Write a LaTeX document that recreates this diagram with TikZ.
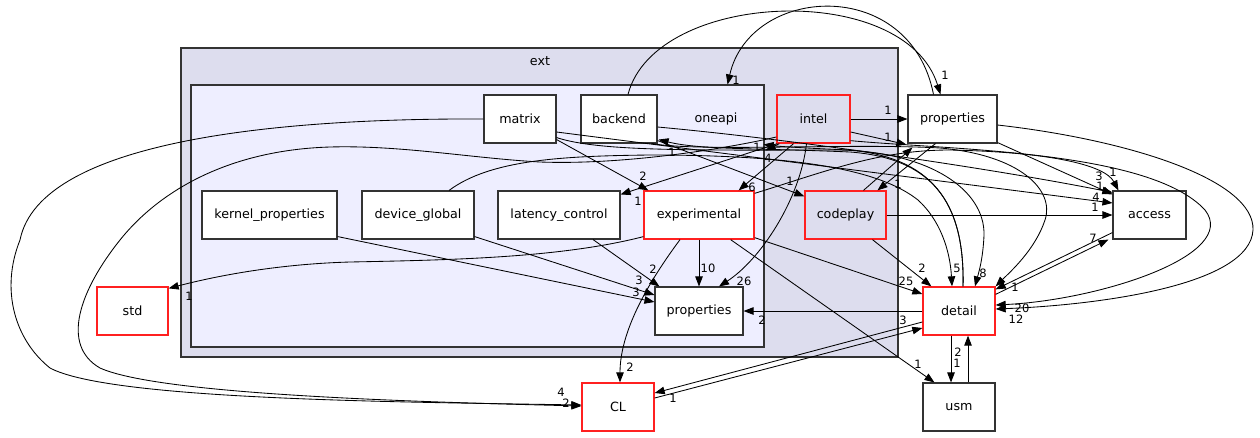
\documentclass[tikz,border=0pt]{standalone}
\usepackage{fontspec}
\setmainfont{DejaVu Sans}
\usetikzlibrary{arrows.meta,calc}
\definecolor{extfill}{HTML}{DDDDEE}
\definecolor{onefill}{HTML}{EEEEFF}
\definecolor{bord}{HTML}{333333}
\definecolor{redb}{HTML}{FF2020}
\tikzset{
  box/.style={draw=bord, fill=white, minimum height=48, inner sep=0, line width=1.1pt, font=\fontsize{12.7}{15}\selectfont},
  redbox/.style={box, draw=redb, line width=1.3pt},
  lavbox/.style={redbox, fill=extfill},
  cluster/.style={draw=bord, line width=1.1pt, inner sep=0},
  edge/.style={-{Triangle[length=10pt,width=7.5pt]}, line width=0.85pt},
  lbl/.style={font=\fontsize{11.5}{13}\selectfont, inner sep=0},
}
\begin{document}
\begin{tikzpicture}[x=1pt,y=-1pt]
\useasboundingbox (0,0) rectangle (1260,437);
% clusters
\node[cluster, fill=extfill, minimum width=717, minimum height=309] (ext) at (539.5,202.5) {};
\node[font=\fontsize{12.7}{15}\selectfont] (extlbl) at (540,61) {ext};
\node[cluster, fill=onefill, minimum width=573, minimum height=262] (oneapi) at (477.5,216) {};
\node[font=\fontsize{12.7}{15}\selectfont] (onelbl) at (716,119) {oneapi};
% nodes
\node[box, minimum width=72] (matrix) at (520,119) {matrix};
\node[box, minimum width=76] (backend) at (619,119) {backend};
\node[lavbox, minimum width=73] (intel) at (813.5,119) {intel};
\node[box, minimum width=89] (propsT) at (952.5,119) {properties};
\node[box, minimum width=135] (kernprop) at (269.5,215) {kernel\_properties};
\node[box, minimum width=112] (devglob) at (418,215) {device\_global};
\node[box, minimum width=122] (latency) at (559,215) {latency\_control};
\node[redbox, minimum width=110] (experimental) at (699,215) {experimental};
\node[lavbox, minimum width=81] (codeplay) at (845.5,215) {codeplay};
\node[box, minimum width=73] (access) at (1149.5,215) {access};
\node[box, minimum width=88] (propsI) at (699,311) {properties};
\node[redbox, minimum width=71] (std) at (132.5,311) {std};
\node[redbox, minimum width=72] (detail) at (959,311) {detail};
\node[redbox, minimum width=72] (CL) at (618,407) {CL};
\node[box, minimum width=72] (usm) at (959,407) {usm};
% edges
\draw[edge] ($(backend.north)+(9,0)$) .. controls (655,-10) and (905,-20) .. ($(propsT.north)+(-12,0)$) node[lbl, at={(945,75)}] {1};
\draw[edge] ($(propsT.north)+(-19,0)$) .. controls (910,-25) and (750,-15) .. ($(oneapi.north east)+(-37,0)$) node[lbl, at={(736,80)}] {1};
\draw[edge] (intel.east) -- (propsT.west) node[lbl, at={(888,110)}] {1};
\draw[edge] ($(intel.east)+(0,13)$) -- ($(propsT.south west)+(-1,1)$) node[lbl, at={(888,137)}] {1};
\draw[edge] ($(codeplay.north)+(18,0)$) -- ($(propsT.south west)+(5,4)$);
\draw[edge] ($(propsT.south)+(-17,0)$) -- ($(codeplay.north)+(32,0)$) node[lbl, at={(898,184)}] {1};
\draw[edge] ($(experimental.north east)+(0,3)$) .. controls (830,170) and (880,150) .. (950,150) .. controls (1050,152) and (1105,165) .. ($(access.north west)+(6,0)$) node[lbl, at={(1113,172)}] {1};
\draw[edge] ($(backend.south east)+(0,-3)$) -- ($(codeplay.north west)+(0,6)$) node[lbl, at={(790,181)}] {1};
\draw[edge] ($(detail.north)+(4,0)$) .. controls (965,200) and (930,158) .. (850,152) .. controls (760,148) and (700,150) .. ($(backend.south east)+(1,-4)$) node[lbl, at={(672,152)}] {1};
\draw[edge] ($(detail.north)+(4,0)$) .. controls (965,200) and (930,158) .. (850,150) .. controls (800,148) and (775,146) .. ($(oneapi.north east)+(-1,60)$) node[lbl, at={(757,147)}] {1};
\draw[edge] ($(intel.south west)+(3,0)$) -- ($(oneapi.north east)+(1,66)$) node[lbl, at={(768,158)}] {4};
\draw[edge] ($(matrix.south east)+(0,-4)$) -- ($(experimental.north west)+(5,0)$) node[lbl, at={(643,176)}] {2};
\draw[edge] ($(intel.south west)+(1,0)$) -- ($(latency.north east)+(0,4)$) node[lbl, at={(638,201)}] {1};
\draw[edge] ($(intel.south)+(-20,0)$) -- ($(experimental.north east)+(-16,0)$) node[lbl, at={(752,187)}] {6};
\draw[edge] (matrix.west) .. controls (280,118) and (40,140) .. (20,240) .. controls (0,290) and (15,340) .. (50,368) .. controls (110,400) and (400,402) .. ($(CL.west)+(0,-2)$) node[lbl, at={(561,392)}] {4};
\draw[edge] ($(intel.west)+(0,18)$) .. controls (720,150) and (620,165) .. (540,162) .. controls (470,158) and (400,145) .. (330,147) .. controls (230,150) and (160,190) .. (120,240) .. controls (80,290) and (60,345) .. (100,368) .. controls (160,395) and (420,402) .. ($(CL.west)+(0,-1)$) node[lbl, at={(566,403)}] {2};
\draw[edge] ($(devglob.north)+(31,0)$) .. controls (490,160) and (560,156) .. (650,155) .. controls (800,155) and (880,170) .. (918,200) .. controls (940,220) and (950,250) .. ($(detail.north)+(-7,0)$) node[lbl, at={(957,268)}] {5};
\draw[edge] ($(matrix.south east)+(0,-6)$) .. controls (600,152) and (700,150) .. (840,150) .. controls (930,152) and (985,190) .. (984,235) .. controls (983,260) and (978,275) .. ($(detail.north)+(16,0)$) node[lbl, at={(983,273)}] {8};
\draw[edge] ($(backend.south east)+(-6,0)$) .. controls (700,152) and (850,143) .. (940,148) .. controls (1020,155) and (1055,190) .. (1045,220) .. controls (1035,250) and (1010,272) .. (detail.north east) node[lbl, at={(1015,287)}] {1};
\draw[edge] ($(backend.east)+(0,8)$) .. controls (800,140) and (1000,170) .. ($(access.north west)+(0,2)$) node[lbl, at={(1099,176)}] {3};
\draw[edge] ($(matrix.east)+(0,13)$) -- ($(access.west)+(0,-12)$) node[lbl, at={(1096,197)}] {4};
\draw[edge] ($(propsT.south east)+(0,-1)$) -- ($(access.north west)+(0,4)$) node[lbl, at={(1100,186)}] {1};
\draw[edge] (codeplay.east) -- (access.west) node[lbl, at={(1095,207)}] {1};
\draw[edge] ($(codeplay.south)+(27,0)$) -- ($(detail.north west)+(9,0)$) node[lbl, at={(922,268)}] {2};
\draw[edge] ($(experimental.south east)+(0,-2)$) -- ($(detail.west)+(0,-17)$) node[lbl, at={(906,281)}] {25};
\draw[edge] ($(propsT.east)+(0,6)$) .. controls (1130,140) and (1255,180) .. (1253,230) .. controls (1250,285) and (1100,305) .. ($(detail.east)+(0,-2)$) node[lbl, at={(1016,319)}] {12};
\draw[edge] ($(intel.south east)+(0,-3)$) .. controls (950,150) and (1150,150) .. (1205,210) .. controls (1240,255) and (1100,300) .. ($(detail.east)+(0,-6)$) node[lbl, at={(1022,308)}] {20};
\draw[edge] ($(access.south west)+(0,-7)$) -- ($(detail.north east)+(0,3)$);
\draw[edge] ($(detail.north east)+(0,8)$) -- ($(access.south west)+(-4,0)$) node[lbl, at={(1093,238)}] {7};
\draw[edge] (detail.west) -- (propsI.east) node[lbl, at={(762,320)}] {2};
\draw[edge] ($(CL.east)+(0,-9)$) -- ($(detail.west)+(0,17)$) node[lbl, at={(903,320)}] {3};
\draw[edge] ($(detail.west)+(0,11)$) -- ($(CL.east)+(0,-14)$) node[lbl, at={(673,398)}] {1};
\draw[edge] ($(detail.south)+(-8,0)$) -- ($(usm.north)+(-8,0)$) node[lbl, at={(957,363)}] {1};
\draw[edge] ($(usm.north)+(9,0)$) -- ($(detail.south)+(9,0)$) node[lbl, at={(958,352)}] {2};
\draw[edge] ($(experimental.south east)+(-24,0)$) -- ($(usm.north west)+(12,0)$) node[lbl, at={(918,364)}] {1};
\draw[edge] ($(experimental.south)+(-19,0)$) .. controls (650,280) and (620,330) .. ($(CL.north)+(2,0)$) node[lbl, at={(630,367)}] {2};
\draw[edge] (experimental.south) -- (propsI.north) node[lbl, at={(708,268)}] {10};
\draw[edge] ($(intel.south)+(-7,0)$) .. controls (800,200) and (760,260) .. ($(propsI.north)+(20,0)$) node[lbl, at={(744,281)}] {26};
\draw[edge] ($(latency.south)+(34,0)$) -- ($(propsI.north west)+(5,0)$) node[lbl, at={(653,269)}] {2};
\draw[edge] ($(devglob.south east)+(0,-3)$) -- ($(propsI.west)+(0,-16)$) node[lbl, at={(639,280)}] {3};
\draw[edge] ($(kernprop.south east)+(0,-3)$) -- ($(propsI.west)+(0,-9)$) node[lbl, at={(636,292)}] {3};
\draw[edge] ($(experimental.south west)+(0,-3)$) .. controls (560,258) and (450,260) .. (350,262) .. controls (280,264) and (220,275) .. ($(std.north east)+(0,2)$) node[lbl, at={(189,296)}] {1};
\end{tikzpicture}
\end{document}
